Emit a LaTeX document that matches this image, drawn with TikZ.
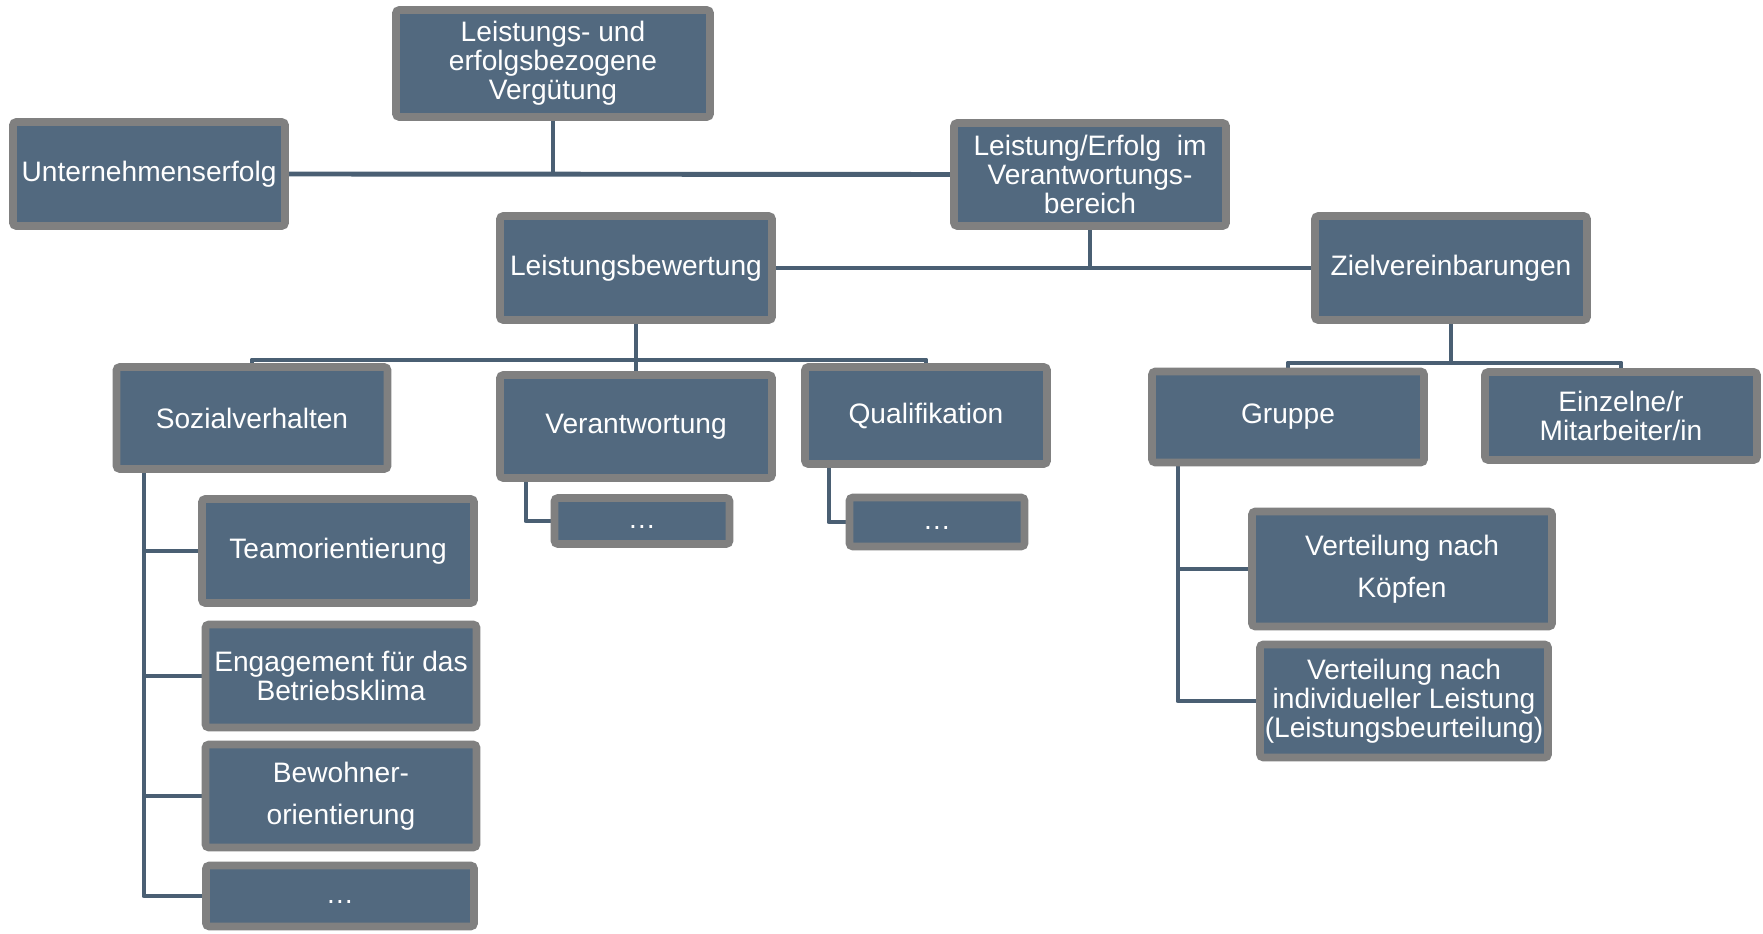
\documentclass[tikz,border=0pt]{standalone}
\usepackage{fontspec}
\setmainfont{Liberation Sans}
\usetikzlibrary{backgrounds,shadows}
\definecolor{boxfill}{HTML}{52697F}
\definecolor{boxrim}{HTML}{808080}
\definecolor{linkcol}{HTML}{4A5F73}

\begin{document}
\begin{tikzpicture}[x=0.01cm, y=-0.01cm,
    box/.style={draw=boxrim, fill=boxfill, line width=2.2pt, rounded corners=1pt,
      inner sep=0pt, align=center, text=white, font=\fontsize{8}{8.3}\selectfont,
      drop shadow={shadow xshift=0.6pt, shadow yshift=-0.8pt, opacity=0.25}},
    wide lines/.style={font=\fontsize{8}{11.8}\selectfont},
    dotsbox/.style={text height=4.5pt, text depth=0pt},
    link/.style={draw=linkcol, line width=1.4pt, line join=round}]
        \useasboundingbox (0,0) rectangle (1763,934);

        % top level
        \node[box, minimum width=3.14cm, minimum height=1.07cm] (verg) at (553,63.5) {Leistungs- und\\erfolgsbezogene\\Vergütung};
        \node[box, minimum width=2.72cm, minimum height=1.04cm] (unt) at (149,174) {Unternehmenserfolg};
        \node[box, minimum width=2.72cm, minimum height=1.03cm] (verb) at (1090,174.5) {Leistung/Erfolg~~im\\Verantwortungs-\\bereich};

        % second level
        \node[box, minimum width=2.72cm, minimum height=1.04cm] (lbew) at (636,268) {Leistungsbewertung};
        \node[box, minimum width=2.72cm, minimum height=1.04cm] (ziel) at (1451,268) {Zielvereinbarungen};

        % criteria
        \node[box, minimum width=2.71cm, minimum height=1.02cm] (sozial) at (252,418) {Sozialverhalten};
        \node[box, minimum width=2.72cm, minimum height=1.03cm] (verant) at (636,426.5) {Verantwortung};
        \node[box, minimum width=2.42cm, minimum height=0.97cm] (quali) at (926,415.5) {Qualifikation};
        \node[box, dotsbox, minimum width=1.75cm, minimum height=0.46cm] (verantsub) at (642,521) {…};
        \node[box, dotsbox, minimum width=1.75cm, minimum height=0.49cm] (qualisub) at (937,522) {…};

        \node[box, minimum width=2.72cm, minimum height=1.04cm] (team) at (338,551) {Teamorientierung};
        \node[box, minimum width=2.71cm, minimum height=1.03cm] (engag) at (341,676) {Engagement für das\\Betriebsklima};
        \node[box, wide lines, minimum width=2.71cm, minimum height=1.03cm] (bewohn) at (341,796) {Bewohner-\\orientierung};
        \node[box, dotsbox, minimum width=2.68cm, minimum height=0.61cm] (sozsub) at (340,896) {…};

        % target agreements
        \node[box, minimum width=2.72cm, minimum height=0.91cm] (gruppe) at (1288,417) {Gruppe};
        \node[box, minimum width=2.72cm, minimum height=0.88cm] (einzel) at (1621,416) {Einzelne/r\\Mitarbeiter/in};
        \node[box, wide lines, minimum width=3.00cm, minimum height=1.15cm] (koepfe) at (1402,569) {Verteilung nach\\Köpfen};
        \node[box, minimum width=2.88cm, minimum height=1.13cm] (indiv) at (1404,701) {Verteilung nach\\individueller Leistung\\(Leistungsbeurteilung)};

        \begin{scope}[on background layer]
          \draw[link] (unt.east) -- (verb.west);
          \draw[link] (verg.south) -- (verg.south |- unt.east);
          \draw[link] (lbew.east) -- (ziel.west);
          \draw[link] (verb.south) -- (verb.south |- lbew.east);

          \coordinate (lbewbar) at (636,360);
          \draw[link] (lbew.south) -- (lbewbar) -- (verant.north);
          \draw[link] (sozial.north) |- (lbewbar) -| (quali.north);

          \coordinate (zielbar) at (1451,363);
          \draw[link] (ziel.south) -- (zielbar);
          \draw[link] (gruppe.north) |- (zielbar) -| (einzel.north);

          \coordinate (sozspine) at (144,418);
          \draw[link] (sozspine) |- (sozsub.west);
          \foreach \n in {team,engag,bewohn}
            \draw[link] (sozspine |- \n.west) -- (\n.west);

          \coordinate (verantspine) at (526,426.5);
          \draw[link] (verantspine) |- (verantsub.west);
          \coordinate (qualispine) at (829,415.5);
          \draw[link] (qualispine) |- (qualisub.west);

          \coordinate (gruppespine) at (1178,417);
          \draw[link] (gruppespine) |- (indiv.west);
          \draw[link] (gruppespine |- koepfe.west) -- (koepfe.west);
        \end{scope}
      \end{tikzpicture}
\end{document}
